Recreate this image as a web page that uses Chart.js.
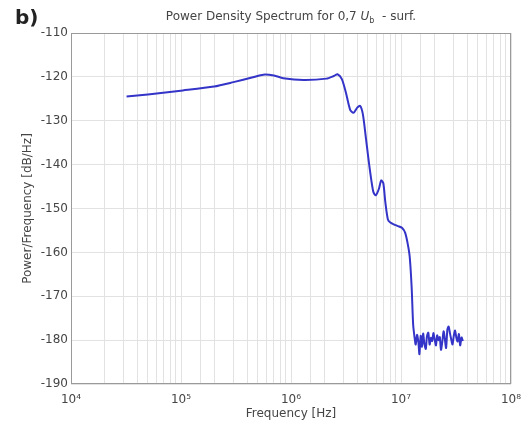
<!DOCTYPE html>
<html>
<head>
<meta charset="utf-8">
<script src="https://cdn.jsdelivr.net/npm/chart.js@4/dist/chart.umd.min.js"></script>
<style>
html,body{margin:0;padding:0;background:#fff;}
#wrap{width:531px;height:427px;position:relative;}
</style>
</head>
<body>
<div id="wrap"><canvas id="c" width="531" height="427"></canvas></div>
<script>
// Frequency (Hz) and power spectral density (dB/Hz)
const freqs = [
  3.2e4, 5e4, 1.04e5, 2e5, 3e5, 4.5e5, 5.6e5, 7e5, 8.5e5, 1.3e6, 2.1e6, 2.45e6, 2.65e6,
  2.9e6, 3.15e6, 3.45e6, 3.7e6, 4.0e6, 4.25e6, 4.5e6, 4.8e6, 5.2e6, 5.6e6, 5.9e6,
  6.3e6, 6.6e6, 6.9e6, 7.2e6, 7.6e6, 8.0e6, 8.6e6, 9.4e6, 1.02e7, 1.09e7, 1.15e7,
  1.2e7, 1.25e7, 1.29e7,
  1.33e7, 1.36e7, 1.40e7, 1.44e7, 1.47e7, 1.51e7, 1.55e7, 1.59e7, 1.63e7, 1.68e7,
  1.72e7, 1.77e7, 1.82e7, 1.87e7, 1.92e7, 1.97e7, 2.02e7, 2.08e7, 2.13e7, 2.19e7,
  2.25e7, 2.31e7, 2.37e7, 2.44e7, 2.50e7, 2.57e7, 2.64e7, 2.71e7, 2.79e7, 2.86e7,
  2.94e7, 3.02e7, 3.10e7, 3.19e7, 3.27e7, 3.36e7, 3.45e7, 3.55e7, 3.65e7
];
const psd = [
  -124.5, -124.0, -123.1, -122.2, -121.2, -120.1, -119.5, -119.7, -120.3, -120.7, -120.4, -119.8, -119.4,
  -120.5, -123.5, -127.5, -128.2, -127.0, -126.6, -128.5, -134, -141, -146.2, -147.0,
  -145.5, -143.6, -144.2, -148.5, -152.5, -153.2, -153.6, -154.0, -154.4, -155.5, -158,
  -161, -168, -176.5,
  -179.5, -181.0, -178.8, -180.5, -183.2, -179.0, -181.5, -178.5, -180.8, -182.0,
  -179.2, -178.3, -181.0, -179.5, -180.2, -178.4, -179.8, -181.2, -178.9, -180.0,
  -179.3, -182.2, -180.5, -178.0, -179.6, -181.8, -177.6, -176.9, -178.5, -179.8,
  -181.0, -179.0, -177.8, -179.5, -180.3, -178.6, -181.2, -179.4, -180.2
];
const xTickLabels = {1e4: '10\u2074', 1e5: '10\u2075', 1e6: '10\u2076', 1e7: '10\u2077', 1e8: '10\u2078'};
const yTicks = [-190, -180, -170, -160, -150, -140, -130, -120, -110];

const points = freqs.map((f, i) => ({x: f, y: psd[i]}));
const FONT = "'DejaVu Sans', sans-serif";
const TXT = '#454545';

const decor = {
  id: 'decor',
  afterDraw(chart) {
    const ctx = chart.ctx, a = chart.chartArea;
    ctx.save();
    ctx.strokeStyle = '#9a9a9a';
    ctx.lineWidth = 1;
    ctx.strokeRect(a.left + 0.5, a.top + 0.5, a.right - a.left - 1, a.bottom - a.top - 1);
    // panel letter
    ctx.fillStyle = '#222';
    ctx.font = 'bold 20px ' + FONT;
    ctx.textBaseline = 'middle';
    ctx.textAlign = 'left';
    ctx.fillText('b)', 15, 19);
    // title with subscript
    const parts = [
      {t: 'Power Density Spectrum for 0,7 ', f: '12px ' + FONT, dy: 0},
      {t: 'U', f: 'italic 12px ' + FONT, dy: 0},
      {t: 'b', f: '8px ' + FONT, dy: 4},
      {t: '  - surf.', f: '12px ' + FONT, dy: 0}
    ];
    let w = 0;
    parts.forEach(p => { ctx.font = p.f; w += ctx.measureText(p.t).width; });
    let x = 291 - w / 2;
    ctx.fillStyle = TXT;
    parts.forEach(p => { ctx.font = p.f; ctx.fillText(p.t, x, 17 + p.dy); x += ctx.measureText(p.t).width; });
    ctx.restore();
  }
};

new Chart(document.getElementById('c'), {
  type: 'line',
  data: {
    datasets: [{
      data: points,
      borderColor: '#3434c8',
      borderWidth: 2,
      pointRadius: 0,
      tension: 0.25,
      fill: false
    }]
  },
  options: {
    responsive: false,
    animation: false,
    layout: {padding: {left: 0, right: 20, top: 33, bottom: 0}},
    plugins: {legend: {display: false}, tooltip: {enabled: false}, title: {display: false}},
    scales: {
      x: {
        type: 'logarithmic',
        min: 1e4, max: 1e8,
        afterFit(s) { s.height = 43; },
        grid: {color: '#e2e2e2', lineWidth: 1, drawTicks: false},
        border: {display: false},
        ticks: {
          autoSkip: false, maxRotation: 0, padding: 9,
          color: TXT, font: {family: FONT, size: 12},
          callback(v) { return xTickLabels[v] !== undefined ? xTickLabels[v] : ''; }
        },
        title: {display: true, text: 'Frequency [Hz]', color: TXT, font: {family: FONT, size: 12}, padding: {top: 0, bottom: 6}}
      },
      y: {
        min: -190, max: -110,
        afterFit(s) { s.width = 71; },
        afterBuildTicks(s) { s.ticks = yTicks.map(v => ({value: v})); },
        grid: {color: '#e2e2e2', lineWidth: 1, drawTicks: false},
        border: {display: false},
        ticks: {padding: 3, color: TXT, font: {family: FONT, size: 12}},
        title: {display: true, text: 'Power/Frequency [dB/Hz]', color: TXT, font: {family: FONT, size: 12}, padding: {top: 21, bottom: 0}}
      }
    }
  },
  plugins: [decor]
});
</script>
</body>
</html>
